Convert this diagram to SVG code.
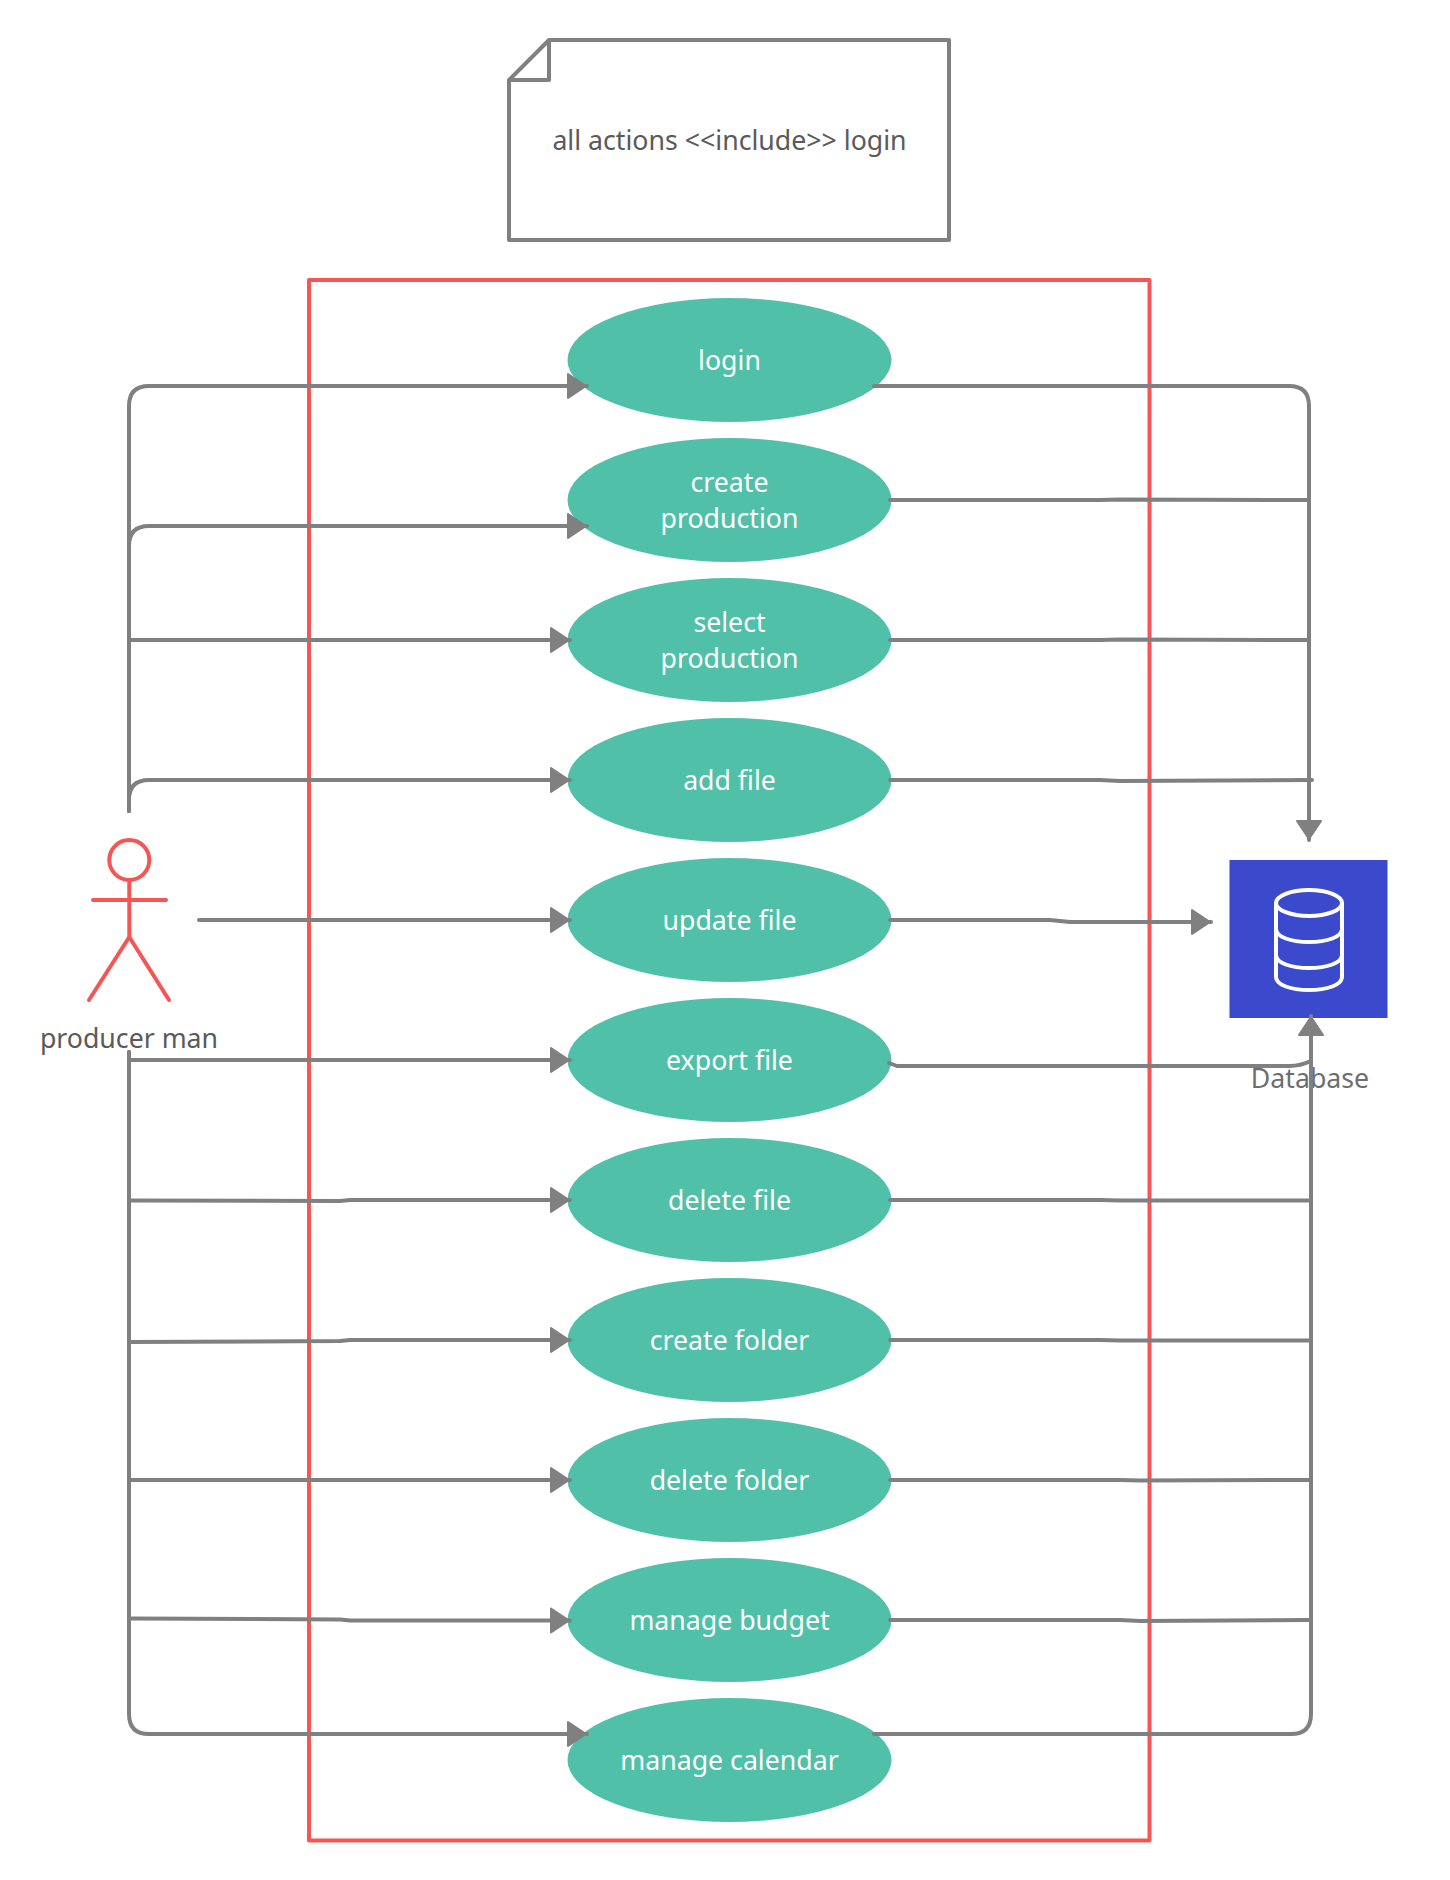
<svg xmlns="http://www.w3.org/2000/svg" width="1450" height="1880" viewBox="0 0 1450 1880">
<style>
text{font-family:"Noto Sans","Open Sans","Liberation Sans",sans-serif;font-size:26.700px;text-anchor:middle}
.uc{fill:#51c0a9}
.uct{fill:#fff}
.lbl{fill:#5a5a5a}
.lnk{fill:none;stroke:#808080;stroke-width:4;stroke-linecap:round;stroke-linejoin:round}
.arr{marker-end:url(#a)}
.sk{fill:none;stroke:#f55555;stroke-width:4;stroke-linecap:round;stroke-linejoin:round}
</style>
<defs>
<marker id="a" markerUnits="userSpaceOnUse" markerWidth="24" markerHeight="30" refX="21" refY="15" orient="auto" overflow="visible">
<path d="M2 3L20 15L2 27Z" fill="#808080" stroke="#808080" stroke-width="2" stroke-linejoin="round"/>
</marker>
</defs>
<rect width="1450" height="1880" fill="#fff"/>
<g id="note">
<path d="M549 40H949V240H509V80Z" fill="#fff" stroke="#808080" stroke-width="4" stroke-linejoin="round"/>
<path d="M509 80H549V40" fill="none" stroke="#808080" stroke-width="4" stroke-linejoin="round"/>
<text class="lbl" x="729.500" y="150">all actions &lt;&lt;include&gt;&gt; login</text>
</g>
<g id="system"><rect x="309" y="280" width="840.500" height="1560.500" fill="none" stroke="#f55555" stroke-width="4" stroke-linejoin="round"/></g>
<g id="login"><ellipse class="uc" cx="729.500" cy="360" rx="162" ry="62"/><text class="uct" x="729.500" y="370">login</text></g>
<g id="create-production"><ellipse class="uc" cx="729.500" cy="500" rx="162" ry="62"/><text class="uct" x="729.500" y="492">create</text><text class="uct" x="729.500" y="528">production</text></g>
<g id="select-production"><ellipse class="uc" cx="729.500" cy="640" rx="162" ry="62"/><text class="uct" x="729.500" y="632">select</text><text class="uct" x="729.500" y="668">production</text></g>
<g id="add-file"><ellipse class="uc" cx="729.500" cy="780" rx="162" ry="62"/><text class="uct" x="729.500" y="790">add file</text></g>
<g id="update-file"><ellipse class="uc" cx="729.500" cy="920" rx="162" ry="62"/><text class="uct" x="729.500" y="930">update file</text></g>
<g id="export-file"><ellipse class="uc" cx="729.500" cy="1060" rx="162" ry="62"/><text class="uct" x="729.500" y="1070">export file</text></g>
<g id="delete-file"><ellipse class="uc" cx="729.500" cy="1200" rx="162" ry="62"/><text class="uct" x="729.500" y="1210">delete file</text></g>
<g id="create-folder"><ellipse class="uc" cx="729.500" cy="1340" rx="162" ry="62"/><text class="uct" x="729.500" y="1350">create folder</text></g>
<g id="delete-folder"><ellipse class="uc" cx="729.500" cy="1480" rx="162" ry="62"/><text class="uct" x="729.500" y="1490">delete folder</text></g>
<g id="manage-budget"><ellipse class="uc" cx="729.500" cy="1620" rx="162" ry="62"/><text class="uct" x="729.500" y="1630">manage budget</text></g>
<g id="manage-calendar"><ellipse class="uc" cx="729.500" cy="1760" rx="162" ry="62"/><text class="uct" x="729.500" y="1770">manage calendar</text></g>
<g id="producer-man">
<circle class="sk" cx="129.300" cy="860" r="20"/>
<path class="sk" d="M129.300 880V937M93 900H166M89 1000L129.300 937L169 1000"/>
<text class="lbl" x="129" y="1048">producer man</text>
</g>
<g id="database">
<rect x="1229.500" y="860" width="158" height="158" fill="#3b49cc"/>
<g fill="none" stroke="#fff" stroke-width="4">
<ellipse cx="1309" cy="903" rx="33" ry="13"/>
<path d="M1276 903V977C1276 985 1291 990 1309 990C1327 990 1342 985 1342 977V903"/>
<path d="M1276 929C1276 937 1291 942 1309 942C1327 942 1342 937 1342 929"/>
<path d="M1276 955C1276 963 1291 968 1309 968C1327 968 1342 963 1342 955"/>
</g>
<text x="1310" y="1088" fill="#6e6e6e">Database</text>
</g>
<g id="connectors" class="lnk">
<path class="arr" d="M129 811V406Q129 386 149 386H587"/>
<path class="arr" d="M129 811V546Q129 526 149 526H587"/>
<path class="arr" d="M129 640H570"/>
<path class="arr" d="M129 811V800Q129 780 149 780H570"/>
<path class="arr" d="M199 920H570"/>
<path class="arr" d="M129 1052V1060H570"/>
<path class="arr" d="M129 1200.500L340 1201L350 1200H570"/>
<path class="arr" d="M129 1342L340 1341L350 1340H570"/>
<path class="arr" d="M129 1480H570"/>
<path class="arr" d="M129 1618.500L340 1619.500L350 1620.500H570"/>
<path class="arr" d="M129 1052V1714Q129 1734 149 1734H587"/>
<path class="arr" d="M874 386H1289Q1309 386 1309 406V840"/>
<path d="M890 500H1100L1120 499.500L1309 500"/>
<path d="M890 640H1100L1120 639.500L1309 640"/>
<path d="M890 780H1100L1120 781L1312 780"/>
<path class="arr" d="M890 920H1050L1070 922H1211"/>
<path d="M889 1063L897 1066H1290Q1300 1066 1311 1061"/>
<path d="M890 1200H1100L1120 1200.500H1311"/>
<path d="M890 1340H1100L1120 1340.500H1311"/>
<path d="M890 1480H1120L1140 1480.500L1311 1480"/>
<path d="M890 1620H1120L1140 1621L1311 1620"/>
<path class="arr" d="M874 1734H1291Q1311 1734 1311 1714V1016"/>
</g>
</svg>
